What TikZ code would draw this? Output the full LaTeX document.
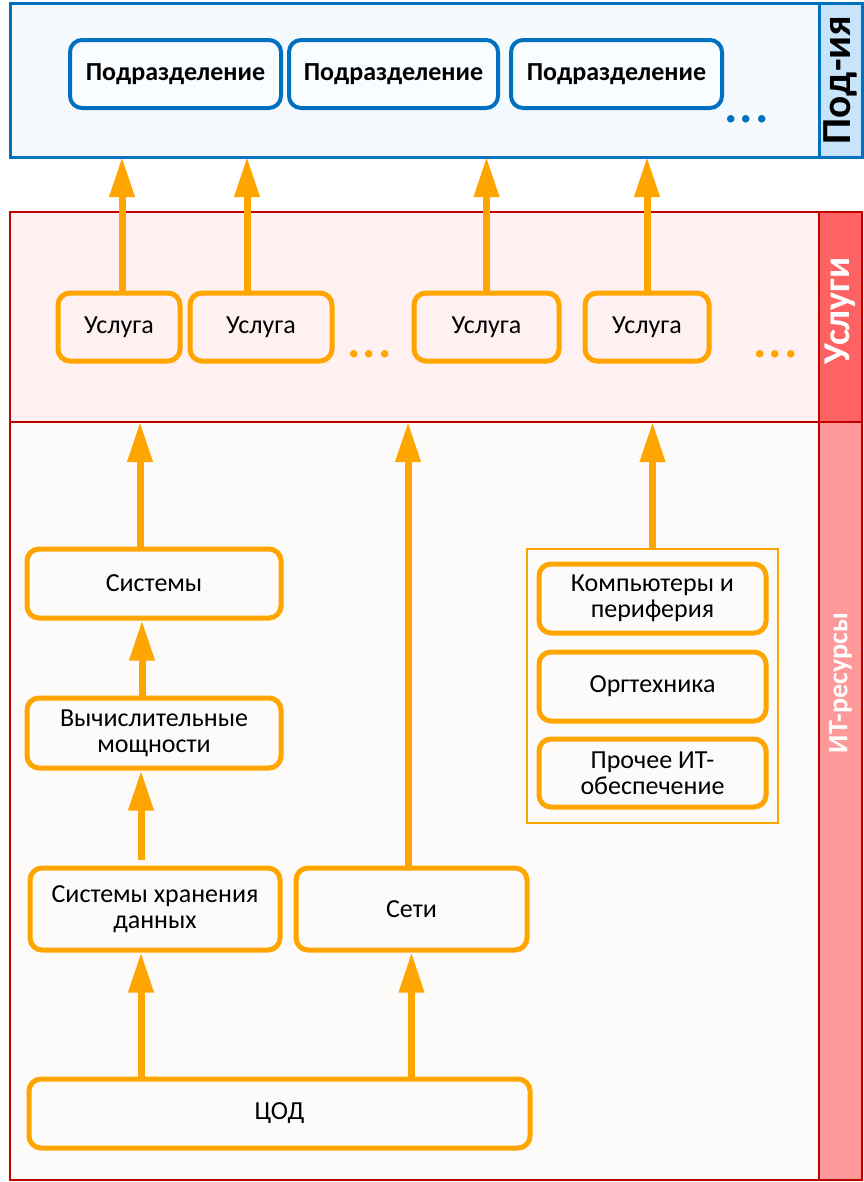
\documentclass[tikz,border=0pt]{standalone}
\usepackage{fontspec}
\setmainfont{Carlito}
\usetikzlibrary{arrows.meta}

\definecolor{deptblue}{RGB}{0,112,192}
\definecolor{deptback}{RGB}{245,250,255}
\definecolor{deptstripfill}{RGB}{200,228,250}
\definecolor{deptfill}{RGB}{250,253,255}
\definecolor{bandred}{RGB}{192,0,0}
\definecolor{svcback}{RGB}{255,241,242}
\definecolor{svcstripfill}{RGB}{255,98,98}
\definecolor{itback}{RGB}{253,251,250}
\definecolor{itstripfill}{RGB}{255,152,152}
\definecolor{floworange}{RGB}{255,165,0}

\tikzset{every picture/.style={line width=0.75pt}}
\tikzset{
  panel/.style={draw, rectangle, inner sep=0pt, outer sep=0pt},
  deptbox/.style={draw=deptblue, line width=3pt, rounded corners=9pt, fill=deptfill,
    inner sep=0pt, minimum height=51pt, font=\fontsize{19.5}{19.5}\selectfont\bfseries},
  itembox/.style={draw=floworange, line width=3.75pt, rounded corners=9pt, align=center,
    inner sep=0pt, font=\fontsize{19.5}{19.5}\selectfont},
  striplabel/.style={rotate=90, inner sep=0pt, font=\bfseries},
  dots/.style={anchor=base, inner sep=0pt, font=\fontsize{46}{46}\selectfont},
  flowarrow/.style={draw=floworange, line width=5.25pt, -{Triangle[width=18pt,length=30pt]}},
}

\begin{document}
\begin{tikzpicture}[x=0.75pt,y=0.75pt,yscale=-1,xscale=1]
\useasboundingbox (0,0) rectangle (864,1182);

%Panels
\node (deptpanel) [panel, draw=deptblue, line width=2.25pt, fill=deptback, minimum width=606.75pt, minimum height=115.5pt] at (414.5,80) {};
\node (deptstrip) [panel, draw=deptblue, line width=2.25pt, fill=deptstripfill, minimum width=32.25pt, minimum height=115.5pt] at (840.5,80) {};
\node (svcpanel) [panel, draw=bandred, line width=1.5pt, fill=svcback, minimum width=606.75pt, minimum height=157.5pt] at (414.5,317) {};
\node (svcstrip) [panel, draw=bandred, line width=1.5pt, fill=svcstripfill, minimum width=32.25pt, minimum height=157.5pt] at (840.5,317) {};
\node (itpanel) [panel, draw=bandred, line width=1.5pt, fill=itback, minimum width=606.75pt, minimum height=568.5pt] at (414.5,801) {};
\node (itstrip) [panel, draw=bandred, line width=1.5pt, fill=itstripfill, minimum width=32.25pt, minimum height=568.5pt] at (840.5,801) {};

% Strip Labels
\node [striplabel, font=\fontsize{31}{31}\selectfont\bfseries] at (deptstrip) {Под-ия};
\node [striplabel, text=white, font=\fontsize{28.5}{28.5}\selectfont\bfseries] at (840.5,311) {Услуги};
\node [striplabel, text=white, font=\fontsize{21}{21}\selectfont\bfseries] at (840.5,683) {ИТ-ресурсы};

%Departments
\node (dept1) [deptbox, minimum width=158.25pt] at (175.5,74) {Подразделение};
\node (dept2) [deptbox, minimum width=156.75pt] at (393.5,74) {Подразделение};
\node (dept3) [deptbox, minimum width=158.25pt] at (616.5,74) {Подразделение};
\node (deptdots) [dots, text=deptblue] at (746.5,122) {...};

%Services
\node (svc1) [itembox, minimum width=91.5pt, minimum height=51pt] at (119,327) {Услуга};
\node (svc2) [itembox, minimum width=106.5pt, minimum height=51pt] at (261,327) {Услуга};
\node (svc3) [itembox, minimum width=108.75pt, minimum height=51pt] at (486.5,327) {Услуга};
\node (svc4) [itembox, minimum width=93pt, minimum height=51pt] at (647,327) {Услуга};
\node (svcdots1) [dots, text=floworange] at (369.5,357) {...};
\node (svcdots2) [dots, text=floworange] at (775.5,357) {...};

%IT resources
\node (sys) [itembox, minimum width=190.5pt, minimum height=51.75pt] at (154,583.5) {Системы};
\node (comp) [itembox, minimum width=190.5pt, minimum height=52.5pt] at (154,733) {Вычислительные\\мощности};
\node (stor) [itembox, minimum width=187.5pt, minimum height=61.5pt] at (155,909) {Системы хранения\\данных};
\node (net) [itembox, minimum width=173.25pt, minimum height=61.5pt] at (411.5,909) {Сети};
\node (dc) [itembox, minimum width=375.75pt, minimum height=51.75pt] at (279.5,1113.5) {ЦОД};
\node (grp) [panel, draw=floworange, line width=1.1pt, minimum width=188.25pt, minimum height=205.5pt] at (652.5,686) {};
\node (pc) [itembox, minimum width=170.25pt, minimum height=51.75pt] at (652.5,598.5) {Компьютеры и\\периферия};
\node (office) [itembox, minimum width=170.25pt, minimum height=51.75pt] at (652.5,686.5) {Оргтехника};
\node (other) [itembox, minimum width=170.25pt, minimum height=51pt] at (652.5,773) {Прочее ИТ-\\обеспечение};

%Arrows: services to departments
\coordinate (s1) at ([xshift=2.25pt]svc1.north);
\coordinate (s2) at ([xshift=-10.5pt]svc2.north);
\draw [flowarrow] (s1) -- (s1 |- deptpanel.south);
\draw [flowarrow] (s2) -- (s2 |- deptpanel.south);
\draw [flowarrow] (svc3.north) -- (svc3.north |- deptpanel.south);
\draw [flowarrow] (svc4.north) -- (svc4.north |- deptpanel.south);

%Arrows: resources to services
\coordinate (r1) at ([xshift=-10.5pt]sys.north);
\coordinate (r2) at ([xshift=-2.6pt]net.north);
\draw [flowarrow] (r1) -- (r1 |- svcpanel.south);
\draw [flowarrow] (r2) -- (r2 |- svcpanel.south);
\draw [flowarrow] (grp.north) -- (grp.north |- svcpanel.south);

%Arrows: inside resources
\coordinate (c1) at ([xshift=-9pt]sys.south);
\coordinate (c2) at ([xshift=-9.75pt]comp.south);
\coordinate (c3) at ([xshift=-10.5pt]stor.south);
\draw [flowarrow] (c1 |- comp.north) -- (c1);
\draw [flowarrow, shorten <=4.5pt] (c2 |- stor.north) -- (c2);
\draw [flowarrow] (c3 |- dc.north) -- (c3);
\draw [flowarrow] (net.south |- dc.north) -- (net.south);

\end{tikzpicture}
\end{document}
